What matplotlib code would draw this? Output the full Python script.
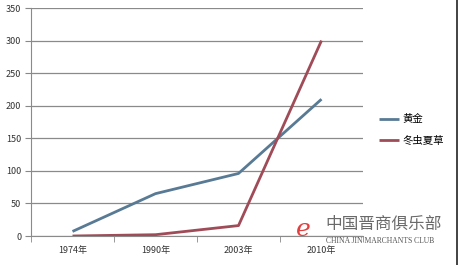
import matplotlib
matplotlib.use("Agg")
import matplotlib.pyplot as plt
import numpy as np

plt.rcParams['font.family'] = ['Noto Sans CJK SC', 'DejaVu Sans']

categories = ["1974年", "1990年", "2003年", "2010年"]
gold = [7, 65, 96, 210]
cordyceps = [0, 2, 16, 300]
series_names = ["黄金", "冬虫夏草"]
yticks = [0, 50, 100, 150, 200, 250, 300, 350]

W, H = 459, 265
fig = plt.figure(figsize=(W / 100, H / 100), dpi=100)
fig.patch.set_facecolor("white")
ax = fig.add_axes([31 / W, 29 / H, 332 / W, 228 / H])
ax.set_facecolor("white")

x = np.arange(len(categories))
ax.plot(x, gold, color="#587a94", lw=2.0, label=series_names[0], solid_capstyle="butt")
ax.plot(x, cordyceps, color="#a04b58", lw=2.0, label=series_names[1], solid_capstyle="butt")

ax.set_xlim(-0.5, len(categories) - 0.5)
ax.set_ylim(0, 350)
ax.set_yticks(yticks)
ax.set_yticklabels([str(v) for v in yticks], fontsize=6.5, color="#333333")
ax.set_xticks(x)
ax.set_xticklabels(categories, fontsize=6.5, color="#333333")
ax.tick_params(axis="x", length=0, pad=7)
ax.set_xticks(np.arange(-0.5, len(categories)), minor=True)
ax.tick_params(axis="x", which="minor", length=4, direction="out", color="#888888")
ax.tick_params(axis="y", length=4, direction="out", color="#888888", pad=3)
ax.grid(axis="y", color="#8a8a8a", lw=0.9)
ax.set_axisbelow(True)
for s in ["top", "right"]:
    ax.spines[s].set_visible(False)
ax.spines["left"].set_color("#8a8a8a")
ax.spines["bottom"].set_color("#8a8a8a")

leg = fig.legend(loc="upper left", bbox_to_anchor=(370 / W, 1 - 105 / H), frameon=False,
                 fontsize=7.5, handlelength=1.9, handletextpad=0.3, labelspacing=1.1)

# watermark
fig.text(325 / W, 1 - 224 / H, "中国晋商俱乐部", fontsize=12, color="#6a6a6a",
         ha="left", va="center", family=["Noto Sans CJK SC"])
fig.text(326 / W, 1 - 241 / H, "CHINA JIN MARCHANTS CLUB", fontsize=5.5, color="#555555",
         ha="left", va="center", family=["Liberation Serif"])
fig.text(296 / W, 1 - 230 / H, "e", fontsize=18, color="#e04040", style="italic",
         ha="left", va="center", family=["DejaVu Serif"])

# right border line
fig.add_artist(plt.Line2D([457 / W, 457 / W], [0, 1], color="#222222", lw=1.2))

fig.savefig("out.png", dpi=100)
